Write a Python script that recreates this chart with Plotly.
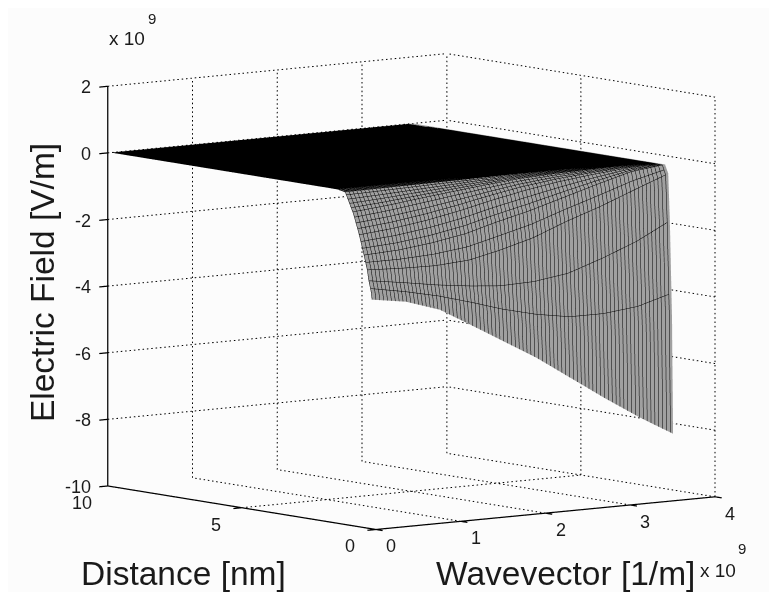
import plotly.graph_objects as go

# --- data ---
wavevector = [0.05, 0.45, 0.85, 1.25, 1.6, 2.0, 2.4, 2.8, 3.2, 3.6]  # x 10^9 1/m
distance = [0.3, 0.34, 0.42, 0.48, 0.6, 0.8, 1.0, 1.3, 1.6, 10.0]    # nm
row_d030 = [-3.15, -3.31, -3.65, -4.25, -4.78, -5.39, -6.09, -6.79, -7.45, -8.05]
row_d034 = [-2.9, -3.1, -3.35, -3.7, -4.05, -4.4, -4.68, -4.8, -4.78, -4.56]
row_d042 = [-2.6, -2.75, -2.92, -3.05, -3.13, -3.1, -2.95, -2.6, -2.2, -1.67]
row_d048 = [-2.28, -2.33, -2.35, -2.28, -2.08, -1.8, -1.4, -1.05, -0.65, -0.26]
row_d060 = [-1.85, -1.8, -1.68, -1.5, -1.25, -1.0, -0.7, -0.4, -0.12, 0]
row_d080 = [-1.2, -1.1, -0.95, -0.75, -0.55, -0.35, -0.2, -0.1, -0.03, 0]
row_d100 = [-0.65, -0.55, -0.42, -0.3, -0.2, -0.1, -0.05, -0.02, 0, 0]
row_d130 = [-0.05, -0.04, -0.03, -0.02, -0.01, 0, 0, 0, 0, 0]
row_d160 = [0, 0, 0, 0, 0, 0, 0, 0, 0, 0]
row_d1000 = [0, 0, 0, 0, 0, 0, 0, 0, 0, 0]
field = [row_d030, row_d034, row_d042, row_d048, row_d060, row_d080, row_d100, row_d130, row_d160, row_d1000]

k_ticks = [0, 1, 2, 3, 4]
d_ticks = [0, 5, 10]
z_ticks = [-10, -8, -6, -4, -2, 0, 2]
K0, K1 = k_ticks[0], k_ticks[-1]
D0, D1 = d_ticks[0], d_ticks[-1]
Z0, Z1 = z_ticks[0], z_ticks[-1]
K_TICK = 0.1    # tick length in wavevector units (range is padded to hold it)
D_TICK = 0.25   # tick length in distance units
PAD = 0.03      # small padding so lines on the box edge are not clipped

FONT = "Liberation Sans"
INK = "#1a1a1a"
MESH_FILL = "#a0a0a0"
fig = go.Figure()

fig.add_trace(go.Surface(
    x=wavevector, y=distance, z=field,
    surfacecolor=[[0] * len(wavevector) for _ in distance],
    colorscale=[[0, MESH_FILL], [1, MESH_FILL]], showscale=False, hoverinfo="skip",
    lighting=dict(ambient=1, diffuse=0, specular=0, roughness=1, fresnel=0),
    contours=dict(
        x=dict(show=True, start=0.05, end=3.6, size=0.0457, color="black", width=2, highlight=False),
        y=dict(show=True, start=0.3, end=10, size=0.06, color="black", width=2, highlight=False),
        z=dict(show=False, highlight=False),
    ),
))

# dotted grid on the back walls and floor: short dashes along each grid line
gx, gy, gz = [], [], []
def seg(a, b, pitch_px):
    n = int(pitch_px)
    for i in range(n):
        t0 = i / n
        t1 = t0 + 0.35 / n
        gx.extend([a[0] + (b[0] - a[0]) * t0, a[0] + (b[0] - a[0]) * t1, None])
        gy.extend([a[1] + (b[1] - a[1]) * t0, a[1] + (b[1] - a[1]) * t1, None])
        gz.extend([a[2] + (b[2] - a[2]) * t0, a[2] + (b[2] - a[2]) * t1, None])
for k in k_ticks[1:]:
    seg((k, D1, Z0), (k, D1, Z1), 92)
    seg((k, D0, Z0), (k, D1, Z0), 64)
for d in d_ticks[:-1]:
    seg((K1, d, Z0), (K1, d, Z1), 92)
    seg((K0, d, Z0), (K1, d, Z0), 78)
for z in z_ticks[1:]:
    seg((K0, D1, z), (K1, D1, z), 78)
    seg((K1, D0, z), (K1, D1, z), 64)
fig.add_trace(go.Scatter3d(x=gx, y=gy, z=gz, mode="lines", hoverinfo="skip",
                           line=dict(color="black", width=2), showlegend=False))

# solid axis lines and tick marks in one trace
tx = [K0, K0, K0, K1, None]
ty = [D1, D1, D0, D0, None]
tz = [Z1, Z0, Z0, Z0, None]
for z in z_ticks:
    tx += [K0, K0 - K_TICK, None]; ty += [D1, D1, None]; tz += [z, z, None]
for d in d_ticks:
    tx += [K0, K0 - K_TICK, None]; ty += [d, d, None]; tz += [Z0, Z0, None]
for k in k_ticks:
    tx += [k, k, None]; ty += [D0, D0 - D_TICK, None]; tz += [Z0, Z0, None]
fig.add_trace(go.Scatter3d(x=tx, y=ty, z=tz, mode="lines", hoverinfo="skip",
                           line=dict(color="black", width=2.5), showlegend=False))

ann = []
def label(x, y, z, text, xs, ys, anchor="center"):
    ann.append(dict(x=x, y=y, z=z, text=text, showarrow=False, xshift=xs, yshift=ys, xanchor=anchor,
                    font=dict(family=FONT, size=18, color=INK)))
for k in k_ticks:
    label(k, D0, Z0, str(k), 15, -17)
for d in d_ticks:
    label(K0, d, Z0, str(d), -26, -17)
for z in z_ticks:
    label(K0, D1, z, str(z), -15, -1, "right")

def note(x, y, text, size, angle=0):
    return dict(xref="paper", yref="paper", x=x, y=y, text=text, textangle=angle, showarrow=False,
                xanchor="center", yanchor="middle", font=dict(family=FONT, size=size, color=INK))

axis = dict(showgrid=False, zeroline=False, showticklabels=False, showline=False,
            ticks="", showbackground=False, showspikes=False, title=dict(text=""))
fig.update_layout(
    width=761, height=584, margin=dict(l=0, r=0, t=0, b=0),
    paper_bgcolor="#fcfcfc", showlegend=False,
    scene=dict(
        domain=dict(x=[0.058, 1], y=[0.0257, 1]),
        xaxis=dict(axis, range=[K0 - K_TICK - PAD, K1 + PAD], tickvals=k_ticks),
        yaxis=dict(axis, range=[D0 - D_TICK - PAD, D1 + PAD], tickvals=d_ticks),
        zaxis=dict(axis, range=[Z0 - PAD, Z1 + PAD], tickvals=z_ticks),
        aspectmode="manual", aspectratio=dict(x=1.565, y=1.592, z=1.423),
        camera=dict(projection=dict(type="orthographic"), up=dict(x=0, y=0, z=1),
                    center=dict(x=0, y=0, z=0), eye=dict(x=-2.42, y=-3.14, z=0.5)),
        annotations=ann,
    ),
    annotations=[
        note(0.0447, 0.529, "Electric Field [V/m]", 33.5, -90),
        note(0.231, 0.0325, "Distance [nm]", 33.5),
        note(0.733, 0.0325, "Wavevector [1/m]", 33.5),
        note(0.933, 0.0375, "x 10", 19),
        note(0.964, 0.0753, "9", 15),
        note(0.156, 0.9486, "x 10", 19),
        note(0.189, 0.9812, "9", 15),
    ],
)
fig.write_html("out.html")
